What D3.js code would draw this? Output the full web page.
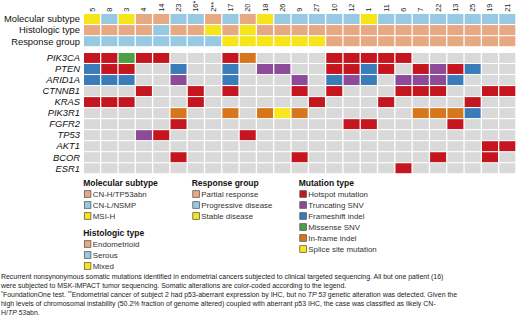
<!DOCTYPE html>
<html><head><meta charset="utf-8">
<script src="https://cdn.jsdelivr.net/npm/d3@7"></script>
<style>
html,body{margin:0;padding:0;background:#fff;}
svg{display:block;font-family:"Liberation Sans",Arial,Helvetica,sans-serif;}
</style></head>
<body>
<svg id="chart" width="520" height="326"></svg>
<script>
// ---------- data ----------
const patients = ["5","8","3","4","14","23","16*","2**","17","20","18","26","9","27","10","12","1","11","6","7","22","13","25","19","21"];

const molecularSubtype = ["MSI-H","CN-L/NSMP","MSI-H","CN-H/TP53abn","CN-H/TP53abn","CN-L/NSMP","CN-L/NSMP","CN-H/TP53abn","CN-L/NSMP","CN-H/TP53abn","MSI-H","CN-L/NSMP","CN-L/NSMP","CN-L/NSMP","CN-L/NSMP","CN-L/NSMP","MSI-H","CN-L/NSMP","CN-L/NSMP","CN-L/NSMP","CN-L/NSMP","CN-L/NSMP","CN-L/NSMP","CN-L/NSMP","CN-L/NSMP"];
const histologicType = ["Endometrioid","Endometrioid","Endometrioid","Endometrioid","Serous","Endometrioid","Endometrioid","Mixed","Endometrioid","Mixed","Endometrioid","Endometrioid","Endometrioid","Endometrioid","Endometrioid","Endometrioid","Endometrioid","Endometrioid","Endometrioid","Endometrioid","Endometrioid","Endometrioid","Endometrioid","Endometrioid","Endometrioid"];
const responseGroup = ["Progressive disease","Progressive disease","Progressive disease","Progressive disease","Progressive disease","Progressive disease","Progressive disease","Progressive disease","Stable disease","Stable disease","Stable disease","Stable disease","Stable disease","Stable disease","Partial response","Partial response","Partial response","Partial response","Partial response","Partial response","Partial response","Partial response","Partial response","Partial response","Partial response"];

const annotationRows = ["Molecular subtype","Histologic type","Response group"];
const genes = ["PIK3CA","PTEN","ARID1A","CTNNB1","KRAS","PIK3R1","FGFR2","TP53","AKT1","BCOR","ESR1"];

// H hotspot, T truncating SNV, F frameshift indel, M missense SNV, I in-frame indel, S splice site, "" none
const PIK3CA = ["H","H","M","H","H","","","","H","I","","","","","H","H","H","H","H","","","","","",""];
const PTEN   = ["F","H","H","","","F","","","F","","T","T","","","H","H","F","H","","H","T","H","F","",""];
const ARID1A = ["F","F","F","","","T","","","F","","","","T","","F","T","F","","T","T","T","F","","",""];
const CTNNB1 = ["","","","H","","","H","","H","","","","H","","H","","","","H","H","H","","","H","H"];
const KRAS   = ["H","H","H","","","","H","","","","","","","H","","","","H","","","","","H","",""];
const PIK3R1 = ["","","","","","I","","","I","","I","S","I","","","","","","","I","I","I","F","",""];
const FGFR2  = ["","","","","","H","","","","","","","","","","H","H","","","","","H","","",""];
const TP53   = ["","","","T","H","","","","","H","","","","","","","","","","","","","","",""];
const AKT1   = ["","","","","","","","","","","","","","","","","","","","","","","","H","H"];
const BCOR   = ["","","","","","H","","","","","","","H","","","","","","","","H","","","H",""];
const ESR1   = ["","","","","","","","","","","","","","","","","","","H","","","","","",""];

const molecularLevels = ["CN-H/TP53abn","CN-L/NSMP","MSI-H"];
const histologicLevels = ["Endometrioid","Serous","Mixed"];
const responseLevels = ["Partial response","Progressive disease","Stable disease"];
const mutationCodes = ["H","T","F","M","I","S"];
const mutationLabels = ["Hotspot mutation","Truncating SNV","Frameshift indel","Missense SNV","In-frame indel","Splice site mutation"];

const captionLines = [
  [{t:"Recurrent nonsynonymous somatic mutations identified in endometrial cancers subjected to clinical targeted sequencing. All but one patient (16)"}],
  [{t:"were subjected to MSK-IMPACT tumor sequencing. Somatic alterations are color-coded according to the legend."}],
  [{t:"*",sup:true},{t:"FoundationOne test. "},{t:"**",sup:true},{t:"Endometrial cancer of subject 2 had p53-aberrant expression by IHC, but no "},{t:"TP 53",it:true},{t:" genetic alteration was detected.  Given the"}],
  [{t:"high levels of chromosomal instability (50.2% fraction of genome altered) coupled with aberrant p53 IHC, the case was classified as likely CN-"}],
  [{t:"H/"},{t:"TP 53",it:true},{t:"abn."}]
];

// ---------- styles ----------
const peach = "#e6a982", lblue = "#97c9e3", yel = "#f6e51a";
const colMol = d3.scaleOrdinal().domain(molecularLevels).range([peach, lblue, yel]);
const colHist = d3.scaleOrdinal().domain(histologicLevels).range([peach, lblue, yel]);
const colResp = d3.scaleOrdinal().domain(responseLevels).range([peach, lblue, yel]);
const colMut = d3.scaleOrdinal().domain(mutationCodes)
  .range(["#c5161f","#8c4a97","#3a7cba","#4d9f43","#d8761b","#f8e71c"]);
const emptyCol = "#d9d9d9";

const svg = d3.select("#chart");
const x = d3.scaleBand().domain(patients).range([84, 515.3]).paddingInner(0.075).paddingOuter(0);
const yA = d3.scaleBand().domain(annotationRows).range([14, 46.2]).paddingInner(0.1);
const yG = d3.scaleBand().domain(genes).range([53, 173.2]).paddingInner(0.1);

// column labels
svg.append("g").selectAll("text").data(patients).join("text")
  .attr("transform", d => `translate(${x(d) + x.bandwidth()/2 + 2.5},11.8) rotate(-90)`)
  .attr("font-size", 7.4).attr("fill", "#222").text(d => d);

// annotation rows
const annData = [molecularSubtype, histologicType, responseGroup];
const annScale = [colMol, colHist, colResp];
annotationRows.forEach((row, r) => {
  svg.append("g").selectAll("rect").data(patients).join("rect")
    .attr("x", d => x(d)).attr("y", yA(row))
    .attr("width", x.bandwidth()).attr("height", yA.bandwidth())
    .attr("fill", (d, i) => annScale[r](annData[r][i]));
});
svg.append("g").selectAll("text").data(annotationRows).join("text")
  .attr("x", 80).attr("y", d => yA(d) + yA.bandwidth()/2 + 3.3)
  .attr("text-anchor", "end").attr("font-size", 9.4).attr("fill", "#111").text(d => d);

// gene rows
const geneData = [PIK3CA, PTEN, ARID1A, CTNNB1, KRAS, PIK3R1, FGFR2, TP53, AKT1, BCOR, ESR1];
genes.forEach((g, r) => {
  svg.append("g").selectAll("rect").data(patients).join("rect")
    .attr("x", d => x(d)).attr("y", yG(g))
    .attr("width", x.bandwidth()).attr("height", yG.bandwidth())
    .attr("fill", (d, i) => geneData[r][i] ? colMut(geneData[r][i]) : emptyCol);
});
svg.append("g").selectAll("text").data(genes).join("text")
  .attr("x", 80).attr("y", d => yG(d) + yG.bandwidth()/2 + 3.3)
  .attr("text-anchor", "end").attr("font-size", 9.4).attr("font-style", "italic")
  .attr("fill", "#111").text(d => d);

// legends
function legend(x0, y0, title, labels, colors) {
  const g = svg.append("g");
  g.append("text").attr("x", x0 - 0.8).attr("y", y0).attr("font-size", 8.5)
    .attr("font-weight", "bold").attr("fill", "#111").text(title);
  labels.forEach((l, i) => {
    const yy = y0 + 11 + i * 11;
    g.append("rect").attr("x", x0 + 0.3).attr("y", yy - 6.3).attr("width", 6.6).attr("height", 6.6)
      .attr("fill", colors[i]).attr("stroke", "#4a4a4a").attr("stroke-width", 0.7);
    g.append("text").attr("x", x0 + 8.8).attr("y", yy).attr("font-size", 7.9)
      .attr("fill", "#333").text(l);
  });
}
legend(84, 186, "Molecular subtype", molecularLevels, molecularLevels.map(colMol));
legend(84, 236, "Histologic type", histologicLevels, histologicLevels.map(colHist));
legend(192.5, 186, "Response group", responseLevels, responseLevels.map(colResp));
legend(299.5, 186, "Mutation type", mutationLabels, mutationCodes.map(colMut));

// caption
const cap = svg.append("g").attr("font-size", 6.95).attr("fill", "#222");
captionLines.forEach((parts, i) => {
  const t = cap.append("text").attr("x", 1).attr("y", 278.6 + i * 9.2);
  parts.forEach((p, j) => {
    const s = t.append("tspan").text(p.t);
    if (p.it) s.attr("font-style", "italic");
    if (p.sup) s.attr("font-size", 5).attr("dy", -2.2);
    else if (j > 0 && parts[j - 1].sup) s.attr("dy", 2.2);
  });
});
</script>
</body></html>
